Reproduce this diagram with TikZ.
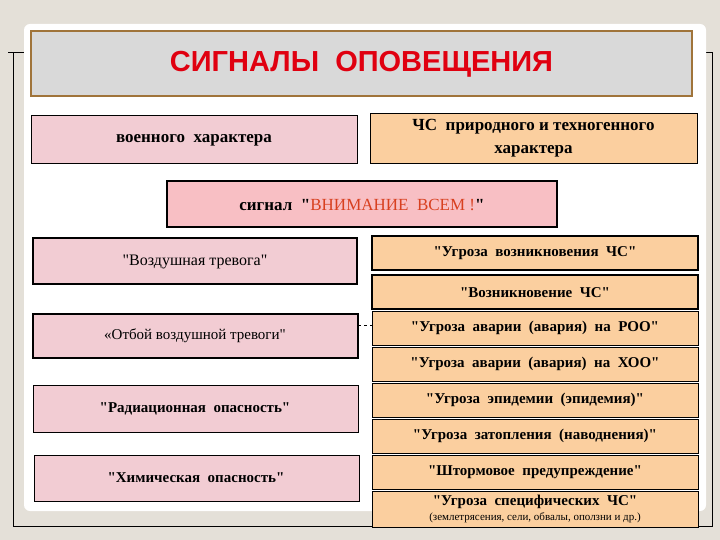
\documentclass[tikz,border=0pt]{standalone}
\usepackage{fontspec}
\setmainfont{Liberation Serif}[Ligatures=TeXOff]
\newfontfamily\titlefont{Liberation Sans}[Ligatures=TeXOff]
\newcommand{\qq}{"}
\begin{document}
\begin{tikzpicture}[x=1pt,y=-1pt,
  lbox/.style={draw=black,fill=pinkc,line width=0.8pt},
  rbox/.style={draw=black,fill=peachc,line width=0.8pt},
  txt/.style={font=\bfseries\fontsize{15}{18}\selectfont,align=center},
  stxt/.style={font=\bfseries\fontsize{15}{18}\selectfont,align=center}]
\definecolor{bgc}{HTML}{E4E0D8}
\definecolor{pinkc}{HTML}{F2CCD3}
\definecolor{peachc}{HTML}{FBCF9F}
\definecolor{sigc}{HTML}{F8BFC4}
\definecolor{titc}{HTML}{D9D9D9}
\definecolor{brownc}{HTML}{A0743A}
\definecolor{redc}{HTML}{E00010}
\definecolor{orc}{HTML}{D84020}
\useasboundingbox (0,0) rectangle (720,540);
\fill[bgc] (0,0) rectangle (720,540);
\draw[black,line width=1pt] (8,53) -- (712,53) -- (712,526) -- (13,526) -- (13,53);
\fill[white,rounded corners=6pt] (24,24) rectangle (706,511);
% title
\draw[fill=titc,draw=brownc,line width=2pt] (31,31) rectangle (692,96);
\node[font=\titlefont\bfseries\fontsize{29}{32}\selectfont,text=redc] (title) at (361.5,64) {СИГНАЛЫ\ \ ОПОВЕЩЕНИЯ};
% headers
\draw[lbox] (31,115) rectangle (357,163);
\node[txt,font=\bfseries\fontsize{17}{20}\selectfont] (mil) at (194,140) {военного\ \ характера};
\draw[rbox] (370,113) rectangle (697,163);
\node[txt,font=\bfseries\fontsize{17}{23}\selectfont] (nat) at (533.5,138) {ЧС\ \ природного и техногенного\\характера};
\draw[fill=sigc,draw=black,line width=2.5pt] (167,181) rectangle (557,227);
\node[txt,font=\bfseries\fontsize{17}{20}\selectfont] (sig) at (362,205) {сигнал\ \ \qq\textcolor{orc}{\mdseries ВНИМАНИЕ\ \ ВСЕМ\ !}\qq};
% left
\draw[lbox,line width=2.2pt] (33,238) rectangle (357,284);
\node[txt,font=\fontsize{16}{19}\selectfont] (l1) at (195,262) {\qq Воздушная тревога\qq};
\draw[lbox,line width=2.2pt] (33,314) rectangle (358,358);
\node[txt,font=\fontsize{15}{18}\selectfont] (l2) at (195,336) {«Отбой воздушной тревоги\qq};
\draw[lbox] (33,385) rectangle (358,432);
\node[stxt] (l3) at (195,409) {\qq Радиационная\ \ опасность\qq};
\draw[lbox] (34,455) rectangle (359,501);
\node[stxt] (l4) at (196,478) {\qq Химическая\ \ опасность\qq};
% right
\draw[rbox,line width=1.6pt] (372,236) rectangle (698,270);
\node[stxt] (r1) at (535,253) {\qq Угроза\ \ возникновения\ \ ЧС\qq};
\draw[rbox,line width=1.6pt] (372,275) rectangle (698,309);
\node[stxt] (r2) at (535,293) {\qq Возникновение\ \ ЧС\qq};
\draw[rbox] (372,311) rectangle (698,345);
\node[stxt] (r3) at (535,328) {\qq Угроза\ \ аварии\ \ (авария)\ \ на\ \ РОО\qq};
\draw[rbox] (372,347) rectangle (698,381);
\node[stxt] (r4) at (535,364) {\qq Угроза\ \ аварии\ \ (авария)\ \ на\ \ ХОО\qq};
\draw[rbox] (372,383) rectangle (698,417);
\node[stxt] (r5) at (535,400) {\qq Угроза\ \ эпидемии\ \ (эпидемия)\qq};
\draw[rbox] (372,419) rectangle (698,453);
\node[stxt] (r6) at (535,436) {\qq Угроза\ \ затопления\ \ (наводнения)\qq};
\draw[rbox] (372,455) rectangle (698,489);
\node[stxt] (r7) at (535,472) {\qq Штормовое\ \ предупреждение\qq};
\draw[rbox] (372,491) rectangle (698,527);
\node[stxt] (r8) at (535,502) {\qq Угроза\ \ специфических\ \ ЧС\qq};
\node[font=\fontsize{11}{12}\selectfont] (r8b) at (535,518) {(землетрясения, сели, обвалы, оползни и др.)};
\coordinate (da) at (358,325);
\coordinate (db) at (372,325);
\draw[dashed,line width=0.5pt] (da) -- (db);
\end{tikzpicture}
\end{document}
